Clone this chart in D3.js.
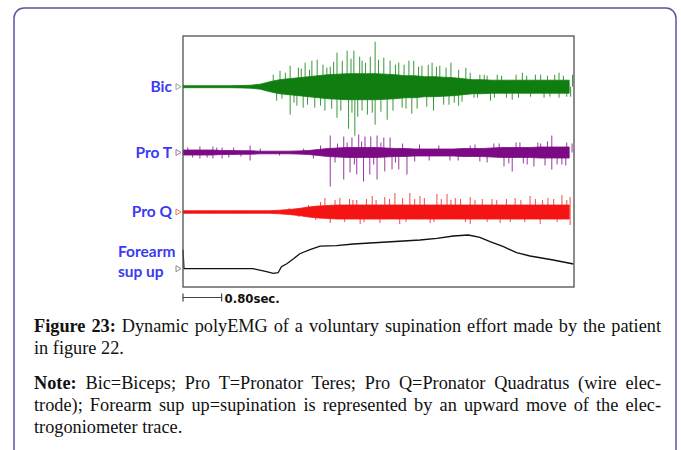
<!DOCTYPE html>
<html><head><meta charset="utf-8">
<script src="https://cdn.jsdelivr.net/npm/d3@7/dist/d3.min.js"></script>
<style>body{margin:0;background:#fff}svg{display:block}</style>
</head><body>
<svg id="chart" width="681" height="450"></svg>
<script>
// ---------------- DATA ----------------
// time grid (s) for the EMG envelopes
const envTime = [0,0.2,0.4,0.6,0.8,1.0,1.2,1.4,1.6,1.8,2.0,2.2,2.4,2.6,2.8,3.0,3.2,3.4,3.6,3.8,4.0,4.2,4.4,4.6,4.8,5.0,5.2,5.4,5.6,5.8,6.0,6.2,6.4,6.6,6.8,7.0,7.2,7.4,7.6,7.8,8.0];
// half-height of the dense EMG band (arbitrary units)
const bicEnvelope  = [1,1,1,1,1,1,1.2,1.5,2.5,5,7,8,9,10,11,12,12.5,13,13,13,13,12.5,12,11,11,10,10,9.5,9,8,7,7,6.5,6.5,6.5,6.5,6.5,6.5,6.5,6.5,6.5];
const proTEnvelope = [2.5,2.5,2.5,2.5,2,2,1.8,1.8,1.3,1.3,1.3,1.3,1.6,2,3,4,4.5,5,5,5,5,4.5,4,4,3.5,3.5,3.5,3.5,3.5,4,4,4,4.5,5,5,5,5,5.5,5.5,5.5,5.5];
const proQEnvelope = [1.3,1.3,1.3,1.3,1.3,1.3,1.3,1.3,1.3,1.3,1.8,2.5,3.5,5,6,6.5,7,7,7,7,7,7,7,7,7,7,7,7,7,7,7,7,7,7,7,7,7,7,7,7,7];
// spikes [time s, amplitude (+ = up)]
const bicSpikes = [[1.87,12],[1.94,-14],[2.01,16],[2.05,-12],[2.12,14],[2.22,21],[2.22,-28],[2.30,-16],[2.36,-19],[2.39,19],[2.45,18],[2.49,-21],[2.53,24],[2.58,-18],[2.62,17],[2.67,26],[2.73,-21],[2.78,27],[2.85,-19],[2.90,22],[2.94,-24],[2.98,19],[3.05,20],[3.08,-22],[3.12,25],[3.19,34],[3.19,-31],[3.27,-24],[3.30,26],[3.40,36],[3.43,-42],[3.48,28],[3.50,-26],[3.54,36],[3.56,-49],[3.62,-30],[3.66,30],[3.71,26],[3.71,-24],[3.78,24],[3.82,-28],[3.88,30],[3.92,-26],[3.98,45],[3.98,-38],[4.05,27],[4.10,-25],[4.16,29],[4.23,-33],[4.29,26],[4.35,-24],[4.40,22],[4.47,24],[4.54,-21],[4.58,22],[4.62,-22],[4.68,26],[4.74,-27],[4.78,26],[4.85,-22],[4.88,20],[4.95,21],[5.05,-20],[5.08,22],[5.16,24],[5.19,-24],[5.25,20],[5.32,21],[5.40,-18],[5.45,19],[5.51,-18],[5.55,24],[5.62,-16],[5.71,17],[5.71,-19],[5.78,-15],[5.86,19],[5.95,14],[6.03,-11],[6.10,-11],[6.15,12],[6.24,12],[6.30,11],[6.37,-14],[6.45,-11],[6.51,12],[6.60,11],[6.70,-11],[6.82,-13],[6.90,12],[6.95,-11],[7.03,14],[7.12,11],[7.20,-10],[7.30,12],[7.41,12],[7.48,-11],[7.55,11],[7.60,-10],[7.70,12],[7.79,14],[7.79,-11],[7.88,11],[7.95,-10],[8.03,-10],[8.07,12]];
const proTSpikes = [[0.10,5],[0.20,-5],[0.35,6],[0.35,-6],[0.50,-5],[0.62,6],[0.62,-6],[0.70,5],[0.81,5],[0.81,-6],[0.95,-5],[1.05,5],[1.20,-4],[1.39,7],[1.39,-8],[1.60,4],[2.00,-3],[2.50,4],[2.70,-6],[2.85,7],[3.05,17],[3.05,-34],[3.15,-10],[3.20,9],[3.33,16],[3.33,-27],[3.40,10],[3.46,-20],[3.50,15],[3.55,-12],[3.60,-22],[3.64,18],[3.70,11],[3.74,-29],[3.77,16],[3.87,-22],[3.89,16],[3.95,-12],[4.02,17],[4.02,-27],[4.10,10],[4.16,15],[4.18,-19],[4.29,15],[4.33,-17],[4.40,-10],[4.47,-17],[4.55,9],[4.64,-22],[4.80,-9],[4.90,8],[5.10,-8],[5.30,7],[5.53,-8],[5.70,-8],[5.95,7],[6.05,8],[6.15,-9],[6.30,-10],[6.44,9],[6.55,9],[6.65,-14],[6.75,-11],[6.82,-19],[6.90,10],[6.98,10],[7.05,-11],[7.13,-12],[7.27,-14],[7.35,10],[7.41,9],[7.50,-13],[7.55,11],[7.64,17],[7.64,-17],[7.75,-12],[7.85,-12],[7.93,-13],[7.95,10],[8.06,9]];
const proQSpikes = [[2.20,4],[2.40,-5],[2.60,7],[2.75,-8],[2.85,10],[2.94,14],[3.05,-11],[3.15,12],[3.25,14],[3.35,-10],[3.45,13],[3.52,12],[3.60,12],[3.67,-12],[3.75,-10],[3.80,13],[3.92,16],[4.00,12],[4.08,-11],[4.18,15],[4.28,13],[4.39,19],[4.49,-12],[4.55,14],[4.62,-10],[4.70,19],[4.80,13],[4.91,16],[5.00,14],[5.12,-11],[5.20,-10],[5.26,18],[5.35,13],[5.47,18],[5.55,12],[5.64,14],[5.75,13],[5.85,-10],[5.95,15],[5.95,-12],[6.05,12],[6.20,13],[6.30,-10],[6.40,13],[6.50,12],[6.57,-11],[6.70,13],[6.78,-10],[6.88,14],[7.00,12],[7.08,-10],[7.19,16],[7.30,13],[7.40,-12],[7.45,12],[7.56,14],[7.68,13],[7.75,-10],[7.85,17],[7.95,12],[8.02,15],[8.02,-13]];
// electrogoniometer trace (forearm supination, + = up)
const forearmTime  = [0,0.02,1.45,1.73,1.87,1.97,2.04,2.15,2.29,2.42,2.63,2.84,3.18,3.53,4.22,4.91,5.26,5.60,5.91,6.15,6.36,6.64,6.91,7.19,7.67,8.09];
const forearmAngle = [19,0,0,-3,-4.6,-4,2,5,10,15,19,22.5,23,24.7,26.7,28.7,30.4,32.7,33.7,31.4,27,22,16,12.7,8.7,4.7];

const channelLabels = ["Bic","Pro T","Pro Q"];
const forearmLabel = ["Forearm","sup up"];
const scaleBarSeconds = 0.8;
const scaleBarLabel = "0.80sec.";
const caption1 = [{b:"Figure 23:",t:" Dynamic polyEMG of a voluntary supination effort made by the patient",j:true},{b:"",t:"in figure 22.",j:false}];
const caption2 = [{b:"Note:",t:" Bic=Biceps; Pro T=Pronator Teres; Pro Q=Pronator Quadratus (wire elec-",j:true},{b:"",t:"trode); Forearm sup up=supination is represented by an upward move of the elec-",j:true},{b:"",t:"trogoniometer trace.",j:false}];

// ---------------- LAYOUT ----------------
const svg = d3.select("#chart");
const frame = {l:183, t:36, r:574, b:287};
const labelColor = "#3b3bf2";

svg.append("rect").attr("x",14).attr("y",8).attr("width",662).attr("height",470)
  .attr("rx",10).attr("fill","none").attr("stroke","#5b54a3").attr("stroke-width",1.5);

const x = d3.scaleLinear().domain([0,8.1]).range([frame.l, frame.r]);

function channel(base, env, spikes, color, spikeColor) {
  const y = d3.scaleLinear().domain([-60,60]).range([base+60, base-60]);
  const g = svg.append("g");
  const data = envTime.map((t,i)=>({t, v:env[i]}));
  g.selectAll("line.sp").data(spikes).join("line")
    .attr("x1", d=>x(d[0])).attr("x2", d=>x(d[0]))
    .attr("y1", y(0)).attr("y2", d=>y(d[1]))
    .attr("stroke", spikeColor).attr("stroke-width",1);
  g.append("path").datum(data)
    .attr("d", d3.area().x(d=>x(d.t)).y0(d=>y(-d.v)).y1(d=>y(d.v)))
    .attr("fill", color).attr("stroke", color).attr("stroke-width",0.8);
  return y;
}
const bases = [86.7, 152.5, 212];
channel(bases[0], bicEnvelope, bicSpikes, "#0f7d0f", "#3a963a");
channel(bases[1], proTEnvelope, proTSpikes, "#7c0a84", "#9538a0");
channel(bases[2], proQEnvelope, proQSpikes, "#f41414", "#f24a4a");

const fBase = 268.7;
const yF = d3.scaleLinear().domain([-10,40]).range([fBase+10, fBase-40]);
svg.append("path").datum(forearmTime.map((t,i)=>({t,v:forearmAngle[i]})))
  .attr("d", d3.line().x(d=>x(d.t)).y(d=>yF(d.v)))
  .attr("fill","none").attr("stroke","#111").attr("stroke-width",1.3);

svg.append("rect").attr("x",frame.l).attr("y",frame.t)
  .attr("width",frame.r-frame.l).attr("height",frame.b-frame.t)
  .attr("fill","none").attr("stroke","#5c5c5c").attr("stroke-width",1.4);

const labFont = "Lato, 'Open Sans', sans-serif";
channelLabels.forEach((lab,i)=>{
  svg.append("text").attr("x",172).attr("y",bases[i]+5).attr("text-anchor","end")
    .attr("font-family",labFont).attr("font-weight","bold").attr("font-size",15.5)
    .attr("fill",labelColor).text(lab);
});
forearmLabel.forEach((lab,i)=>{
  svg.append("text").attr("x",118).attr("y",257+i*20).attr("font-family",labFont)
    .attr("font-weight","bold").attr("font-size",15.5).attr("fill",labelColor).text(lab);
});
const triColors = ["#8fae8f","#a07aa8","#e07a5a","#8a8a8a"];
[...bases, fBase].forEach((b,i)=>{
  svg.append("path").attr("d",`M${176},${b-3} L${181},${b} L${176},${b+3} Z`)
    .attr("fill","none").attr("stroke",triColors[i]).attr("stroke-width",1);
});

const sbY = 297.5;
const sb = svg.append("g").attr("stroke","#444").attr("stroke-width",1.2);
sb.append("line").attr("x1",x(0)).attr("x2",x(scaleBarSeconds)).attr("y1",sbY).attr("y2",sbY);
sb.append("line").attr("x1",x(0)).attr("x2",x(0)).attr("y1",sbY-4).attr("y2",sbY+4);
sb.append("line").attr("x1",x(scaleBarSeconds)).attr("x2",x(scaleBarSeconds)).attr("y1",sbY-4).attr("y2",sbY+4);
svg.append("text").attr("x",x(scaleBarSeconds)+3).attr("y",sbY+5)
  .attr("font-family","'Liberation Sans Narrow','DejaVu Sans Condensed',sans-serif")
  .attr("font-weight","bold").attr("font-size",13).attr("fill","#111").text(scaleBarLabel);

const capFont = "'Liberation Serif','Times New Roman',serif";
const capL = 34, capR = 661;
function captionLines(lines, y0) {
  lines.forEach((ln,i)=>{
    const t = svg.append("text").attr("x",capL).attr("y",y0+i*22)
      .attr("font-family",capFont).attr("font-size",18.3).attr("fill","#111")
      .attr("xml:space","preserve");
    if (ln.b) t.append("tspan").attr("font-weight","bold").text(ln.b);
    t.append("tspan").text(ln.t);
    if (ln.j) {
      const w = t.node().getComputedTextLength();
      const full = ln.b + ln.t;
      const nSp = (full.trim().match(/ /g)||[]).length;
      if (nSp>0) t.attr("word-spacing", (capR-capL-w)/nSp);
    }
  });
}
captionLines(caption1, 332);
captionLines(caption2, 389);
</script>
</body></html>
